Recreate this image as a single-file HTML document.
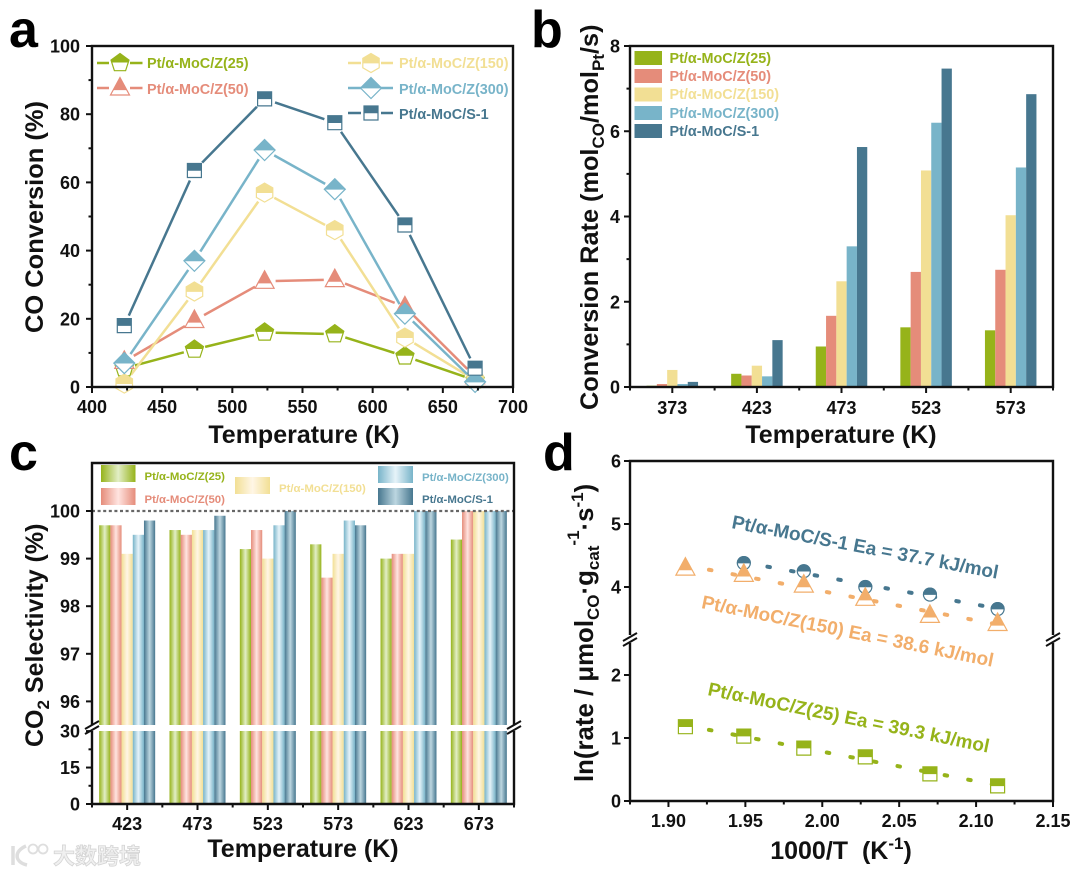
<!DOCTYPE html>
<html lang="en">
<head>
<meta charset="utf-8">
<title>Pt/α-MoC catalyst performance</title>
<style>
html,body{margin:0;padding:0;background:#fff;}
svg{display:block;}
text{font-family:"Liberation Sans","Noto Sans CJK SC",sans-serif;font-weight:bold;fill:#111;}
.tick{font-size:18px;}
.title{font-size:25px;}
.letter{font-size:52px;fill:#000;}
.lg{font-size:14.4px;}
.lgc{font-size:11.4px;}
.anno{font-size:19px;}
.g25{fill:#96b31a;}.g50{fill:#e58c7a;}.g150{fill:#f2df94;}.g300{fill:#78b4c9;}.gs1{fill:#47778f;}.go{fill:#f2ae6b;}
</style>
</head>
<body>
<svg id="figure" xmlns="http://www.w3.org/2000/svg" width="1080" height="874" viewBox="0 0 1080 874">
<defs>
<clipPath id="top-half" clipPathUnits="objectBoundingBox"><rect x="-0.2" y="-0.2" width="1.4" height="0.72"/></clipPath>
<clipPath id="top-tri" clipPathUnits="objectBoundingBox"><rect x="-0.2" y="-0.2" width="1.4" height="0.92"/></clipPath>
<linearGradient id="grad-0"><stop offset="0" stop-color="#96b31a"/><stop offset=".5" stop-color="#e2eec6"/><stop offset="1" stop-color="#96b31a"/></linearGradient>
<linearGradient id="grad-1"><stop offset="0" stop-color="#e58c7a"/><stop offset=".5" stop-color="#ffe4e0"/><stop offset="1" stop-color="#e58c7a"/></linearGradient>
<linearGradient id="grad-2"><stop offset="0" stop-color="#f2df94"/><stop offset=".5" stop-color="#fff6e6"/><stop offset="1" stop-color="#f2df94"/></linearGradient>
<linearGradient id="grad-3"><stop offset="0" stop-color="#78b4c9"/><stop offset=".5" stop-color="#e6f3f9"/><stop offset="1" stop-color="#78b4c9"/></linearGradient>
<linearGradient id="grad-4"><stop offset="0" stop-color="#47778f"/><stop offset=".5" stop-color="#bcd6e0"/><stop offset="1" stop-color="#47778f"/></linearGradient>
</defs>

<text class="letter" x="9" y="47">a</text>
<text class="letter" x="531" y="47">b</text>
<text class="letter" x="9" y="470">c</text>
<text class="letter" x="543" y="470">d</text>

<g id="panel-a">
  <g id="a-marks"></g>
  <rect x="92" y="46" width="421" height="341" fill="none" stroke="#111" stroke-width="2.4"/>
  <g id="a-axes"></g>
  <text class="title" transform="translate(43,333) rotate(-90)" textLength="232" lengthAdjust="spacingAndGlyphs">CO Conversion (%)</text>
  <text class="title" x="304" y="443" text-anchor="middle">Temperature (K)</text>
  <g id="a-legend">
    <g stroke-width="2.5">
      <path d="M97 63H109M130 63H142.5" stroke="#96b31a"/>
      <path d="M97 88H109M130 88H142.5" stroke="#e58c7a"/>
      <path d="M348 63H361M381 63H393" stroke="#f2df94"/>
      <path d="M348 88H361M381 88H393" stroke="#78b4c9"/>
      <path d="M348 113H361M381 113H393" stroke="#47778f"/>
    </g>
    <text class="lg g25" x="147" y="68">Pt/α-MoC/Z(25)</text>
    <text class="lg g50" x="147" y="94">Pt/α-MoC/Z(50)</text>
    <text class="lg g150" x="399" y="68">Pt/α-MoC/Z(150)</text>
    <text class="lg g300" x="399" y="94">Pt/α-MoC/Z(300)</text>
    <text class="lg gs1" x="399" y="119">Pt/α-MoC/S-1</text>
  </g>
</g>

<g id="panel-b">
  <g id="b-marks"></g>
  <rect x="630" y="46" width="423" height="341" fill="none" stroke="#111" stroke-width="2.4"/>
  <g id="b-axes"></g>
  <text class="title" style="font-size:25.3px" transform="translate(598,410) rotate(-90)">Conversion Rate (mol<tspan font-size="17" dy="6">CO</tspan><tspan dy="-6">/mol</tspan><tspan font-size="17" dy="6">Pt</tspan><tspan dy="-6">/s)</tspan></text>
  <text class="title" x="841" y="443" text-anchor="middle">Temperature (K)</text>
  <g>
    <rect x="634.5" y="51" width="27.5" height="14" fill="#96b31a"/>
    <rect x="634.5" y="69" width="27.5" height="14" fill="#e58c7a"/>
    <rect x="634.5" y="87.5" width="27.5" height="14" fill="#f2df94"/>
    <rect x="634.5" y="106" width="27.5" height="14" fill="#78b4c9"/>
    <rect x="634.5" y="124" width="27.5" height="14" fill="#47778f"/>
    <text class="lg g25" x="669.5" y="63">Pt/α-MoC/Z(25)</text>
    <text class="lg g50" x="669.5" y="81">Pt/α-MoC/Z(50)</text>
    <text class="lg g150" x="669.5" y="99">Pt/α-MoC/Z(150)</text>
    <text class="lg g300" x="669.5" y="118">Pt/α-MoC/Z(300)</text>
    <text class="lg gs1" x="669.5" y="136">Pt/α-MoC/S-1</text>
  </g>
</g>

<g id="panel-c">
  <g id="c-marks"></g>
  <line x1="92" x2="514" y1="511" y2="511" stroke="#666" stroke-width="2.2" stroke-dasharray="3 2.6"/>
  <path d="M92 725V463H514V725M92 731V804H514V731" fill="none" stroke="#111" stroke-width="2.4"/>
  <path d="M85 729L99 721M85 734L99 726M507 729L521 721M507 734L521 726" fill="none" stroke="#111" stroke-width="2"/>
  <g id="c-axes"></g>
  <text class="title" transform="translate(43,747) rotate(-90)">CO<tspan font-size="17" dy="6">2</tspan><tspan dy="-6"> Selectivity (%)</tspan></text>
  <text class="title" x="303" y="857" text-anchor="middle">Temperature (K)</text>
  <g>
    <rect x="101" y="465" width="34.5" height="17" fill="url(#grad-0)"/>
    <rect x="101" y="488" width="34.5" height="17" fill="url(#grad-1)"/>
    <rect x="235" y="477" width="35" height="17" fill="url(#grad-2)"/>
    <rect x="378" y="466" width="35" height="17" fill="url(#grad-3)"/>
    <rect x="378" y="488" width="35" height="17" fill="url(#grad-4)"/>
    <text class="lgc g25" x="144.5" y="480">Pt/α-MoC/Z(25)</text>
    <text class="lgc g50" x="144.5" y="503">Pt/α-MoC/Z(50)</text>
    <text class="lgc g150" x="279" y="492">Pt/α-MoC/Z(150)</text>
    <text class="lgc g300" x="422" y="481">Pt/α-MoC/Z(300)</text>
    <text class="lgc gs1" x="422" y="503">Pt/α-MoC/S-1</text>
  </g>
</g>

<g id="panel-d">
  <g id="d-marks"></g>
  <path d="M630 635V461H1053V635M630 643V801H1053V643" fill="none" stroke="#111" stroke-width="2.4"/>
  <path d="M623 641L637 633M623 646L637 638M1046 641L1060 633M1046 646L1060 638" fill="none" stroke="#111" stroke-width="2"/>
  <g id="d-axes"></g>
  <text class="title" style="font-size:25.8px" transform="translate(593,782) rotate(-90)">ln(rate / μmol<tspan font-size="17" dy="6">CO</tspan><tspan dy="-6">·g</tspan><tspan font-size="17" dy="6">cat</tspan><tspan font-size="17" dy="-20">-1</tspan><tspan dy="14">·s</tspan><tspan font-size="17" dy="-10">-1</tspan><tspan dy="10">)</tspan></text>
  <text class="title" x="841" y="859" text-anchor="middle" xml:space="preserve">1000/T  (K<tspan font-size="17" dy="-10">-1</tspan><tspan dy="10">)</tspan></text>
  <text class="anno gs1" transform="translate(731,528) rotate(10.8)">Pt/α-MoC/S-1 Ea = 37.7 kJ/mol</text>
  <text class="anno go" transform="translate(700.7,608) rotate(11.4)">Pt/α-MoC/Z(150) Ea = 38.6 kJ/mol</text>
  <text class="anno g25" transform="translate(707,695) rotate(11.6)">Pt/α-MoC/Z(25) Ea = 39.3 kJ/mol</text>
</g>

<g>
  <path d="M13 846V865M26 846C14 851 14 862 27 865" fill="none" stroke="#dedede" stroke-width="3.5"/>
  <circle cx="33" cy="849" r="4.5" fill="none" stroke="#dedede" stroke-width="1.8"/>
  <circle cx="43" cy="849" r="4.5" fill="none" stroke="#dedede" stroke-width="1.8"/>
  <text x="53" y="864" font-size="22" style="fill:#f0f0f0;stroke:#d4d4d4;stroke-width:.8;font-weight:bold;">大数跨境</text>
</g>
</svg>

<script>
/* ---------- panel a data ---------- */
const aTemps = [423, 473, 523, 573, 623, 673];
const aZ25 = [5.5, 11, 16, 15.5, 9, 2];
const aZ50 = [7.5, 19.5, 31, 31.5, 23.5, 3];
const aZ150 = [1, 28, 57, 46, 14.5, 2];
const aZ300 = [7, 37, 69.5, 58, 21.5, 1.5];
const aS1 = [18, 63.5, 84.5, 77.5, 47.5, 5.5];
const aXTicks = [400, 450, 500, 550, 600, 650, 700];
const aYTicks = [0, 20, 40, 60, 80, 100];

/* ---------- panel b data ---------- */
const bCategories = ['373', '423', '473', '523', '573'];
const bZ25 = [0.03, 0.31, 0.95, 1.4, 1.33];
const bZ50 = [0.07, 0.27, 1.67, 2.7, 2.75];
const bZ150 = [0.4, 0.5, 2.48, 5.08, 4.03];
const bZ300 = [0.07, 0.25, 3.3, 6.2, 5.15];
const bS1 = [0.12, 1.1, 5.63, 7.47, 6.87];
const bYTicks = [0, 2, 4, 6, 8];

/* ---------- panel c data ---------- */
const cCategories = ['423', '473', '523', '573', '623', '673'];
const cZ25 = [99.7, 99.6, 99.2, 99.3, 99.0, 99.4];
const cZ50 = [99.7, 99.5, 99.6, 98.6, 99.1, 100];
const cZ150 = [99.1, 99.6, 99.0, 99.1, 99.1, 100];
const cZ300 = [99.5, 99.6, 99.7, 99.8, 100, 100];
const cS1 = [99.8, 99.9, 100, 99.7, 100, 100];
const cUpperTicks = [96, 97, 98, 99, 100];
const cLowerTicks = [0, 15, 30];

/* ---------- panel d data ---------- */
const dS1X = [1.949, 1.988, 2.028, 2.07, 2.114];
const dS1Y = [4.38, 4.25, 4.0, 3.88, 3.65];
const dZ150X = [1.911, 1.949, 1.988, 2.028, 2.07, 2.114];
const dZ150Y = [4.3, 4.2, 4.03, 3.82, 3.55, 3.42];
const dZ25X = [1.911, 1.949, 1.988, 2.028, 2.07, 2.114];
const dZ25Y = [1.18, 1.03, 0.84, 0.7, 0.43, 0.24];
const dXTicks = ['1.90', '1.95', '2.00', '2.05', '2.10', '2.15'];
const dUpperTicks = [4, 5, 6];
const dLowerTicks = [0, 1, 2];

const COL = ['#96b31a', '#e58c7a', '#f2df94', '#78b4c9', '#47778f'];
const ORANGE = '#f2ae6b';
const NS = 'http://www.w3.org/2000/svg';

function make(parent, tag, attrs) {
  const el = document.createElementNS(NS, tag);
  for (const k in attrs) el.setAttribute(k, attrs[k]);
  parent.appendChild(el);
  return el;
}
function tickLine(parent, x1, y1, x2, y2) {
  const el = make(parent, 'line', {x1: x1, y1: y1, x2: x2, y2: y2, stroke: '#111', 'stroke-width': 2});
  
  
}
function tickLabel(parent, x, y, anchor, str) {
  const el = make(parent, 'text', {x: x, y: y, 'text-anchor': anchor, class: 'tick'});
  
  
  el.textContent = str;
}
function xTick(parent, x, axisY, label, baseY) {
  tickLine(parent, x, axisY, x, axisY + 6);
  if (label !== null) tickLabel(parent, x, baseY, 'middle', label);
}
function yTick(parent, axisX, y, label, rightX) {
  tickLine(parent, axisX - 6, y, axisX, y);
  tickLabel(parent, rightX, y + 6.5, 'end', label);
}
function minorX(parent, x, axisY) { tickLine(parent, x, axisY, x, axisY + 3.5); }
function minorY(parent, axisX, y) { tickLine(parent, axisX - 3.5, y, axisX, y); }

function shapePoints(shape, x, y) {
  const pts = [];
  if (shape === 'pentagon' || shape === 'hexagon') {
    const n = shape === 'pentagon' ? 5 : 6;
    const r = 9.5;
    for (let i = 0; i < n; i++) {
      const t = -Math.PI / 2 + i * 2 * Math.PI / n;
      pts.push([x + r * Math.cos(t), y + r * Math.sin(t)]);
    }
  } else if (shape === 'triangle') {
    pts.push([x, y - 10.5], [x + 9.5, y + 7], [x - 9.5, y + 7]);
  } else if (shape === 'diamond') {
    pts.push([x, y - 10.5], [x + 10.5, y], [x, y + 10.5], [x - 10.5, y]);
  } else {
    pts.push([x - 7, y - 7], [x + 7, y - 7], [x + 7, y + 7], [x - 7, y + 7]);
  }
  return pts.map(p => p[0].toFixed(1) + ',' + p[1].toFixed(1)).join(' ');
}
function marker(parent, shape, x, y, color) {
  let base, top;
  const clip = shape === 'triangle' ? 'url(#top-tri)' : 'url(#top-half)';
  if (shape === 'circle') {
    base = make(parent, 'circle', {cx: x, cy: y, r: 6.5, fill: '#fff', stroke: color, 'stroke-width': 1.2});
    top = make(parent, 'circle', {cx: x, cy: y, r: 7, fill: color, 'clip-path': clip});
  } else {
    const pts = shapePoints(shape, x, y);
    base = make(parent, 'polygon', {points: pts, fill: '#fff', stroke: color, 'stroke-width': 1.2});
    top = make(parent, 'polygon', {points: pts, fill: color, stroke: 'none', 'clip-path': clip});
  }
  
  
  
  
}

/* ---------- panel a ---------- */
(function () {
  const marks = document.getElementById('a-marks');
  const axes = document.getElementById('a-axes');
  const legend = document.getElementById('a-legend');
  const xs = v => 92 + (v - 400) * 421 / 300;
  const ys = v => 387 - v * 3.41;
  const series = [aZ25, aZ50, aZ150, aZ300, aS1];
  const shapes = ['pentagon', 'triangle', 'hexagon', 'diamond', 'square'];
  series.forEach(function (vals, s) {
    for (let i = 0; i < vals.length - 1; i++) {
      const x1 = xs(aTemps[i]), y1 = ys(vals[i]), x2 = xs(aTemps[i + 1]), y2 = ys(vals[i + 1]);
      const d = Math.hypot(x2 - x1, y2 - y1);
      if (d < 22) continue;
      const ux = (x2 - x1) / d, uy = (y2 - y1) / d;
      const seg = make(marks, 'line', {x1: x1 + ux * 11, y1: y1 + uy * 11, x2: x2 - ux * 11, y2: y2 - uy * 11, stroke: COL[s], 'stroke-width': 2.5});
      
      
    }
  });
  series.forEach(function (vals, s) {
    vals.forEach(function (v, i) { marker(marks, shapes[s], xs(aTemps[i]), ys(v), COL[s]); });
  });
  aXTicks.forEach(function (t, i) {
    xTick(axes, xs(t), 387, String(t), 413);
    if (i < aXTicks.length - 1) minorX(axes, xs(t + 25), 387);
  });
  aYTicks.forEach(function (t, i) {
    yTick(axes, 92, ys(t), String(t), 80);
    if (i < aYTicks.length - 1) minorY(axes, 92, ys(t + 10));
  });
  marker(legend, 'pentagon', 120, 63, COL[0]);
  marker(legend, 'triangle', 120, 88, COL[1]);
  marker(legend, 'hexagon', 371, 63, COL[2]);
  marker(legend, 'diamond', 371, 88, COL[3]);
  marker(legend, 'square', 371, 113, COL[4]);
})();

/* ---------- panel b ---------- */
(function () {
  const marks = document.getElementById('b-marks');
  const axes = document.getElementById('b-axes');
  const step = 423 / bCategories.length;
  const xc = i => 630 + step * (i + 0.5);
  const ys = v => 387 - v * 341 / 8;
  const series = [bZ25, bZ50, bZ150, bZ300, bS1];
  const bw = 10.3;
  series.forEach(function (vals, s) {
    vals.forEach(function (v, i) {
      const b = make(marks, 'rect', {x: xc(i) + (s - 2.5) * bw, y: ys(v), width: bw, height: 387 - ys(v), fill: COL[s]});
      
      
    });
  });
  bCategories.forEach(function (c, i) {
    xTick(axes, xc(i), 387, c, 414);
    minorX(axes, 630 + step * i, 387);
  });
  minorX(axes, 1053, 387);
  bYTicks.forEach(function (t, i) {
    yTick(axes, 630, ys(t), String(t), 620);
    if (i < bYTicks.length - 1) minorY(axes, 630, ys(t + 1));
  });
})();

/* ---------- panel c ---------- */
(function () {
  const marks = document.getElementById('c-marks');
  const axes = document.getElementById('c-axes');
  const step = 422 / cCategories.length;
  const xc = i => 92 + step * (i + 0.5);
  const yUp = v => 511 + (100 - v) * 47.6;
  const yLow = v => 804 - v * 2.43;
  const series = [cZ25, cZ50, cZ150, cZ300, cS1];
  const bw = 11.2;
  series.forEach(function (vals, s) {
    vals.forEach(function (v, i) {
      const x = xc(i) + (s - 2.5) * bw;
      const up = make(marks, 'rect', {x: x, y: yUp(v), width: bw, height: 725 - yUp(v), fill: 'url(#grad-' + s + ')'});
      
      
      const low = make(marks, 'rect', {x: x, y: 731, width: bw, height: 73, fill: 'url(#grad-' + s + ')'});
      
      
    });
  });
  cCategories.forEach(function (c, i) {
    xTick(axes, xc(i), 804, c, 830);
    minorX(axes, 92 + step * i, 804);
  });
  minorX(axes, 514, 804);
  cUpperTicks.forEach(function (t) { yTick(axes, 92, yUp(t), String(t), 80); });
  cLowerTicks.forEach(function (t) { yTick(axes, 92, yLow(t), String(t), 80); });
  minorY(axes, 92, yLow(7.5));
  minorY(axes, 92, yLow(22.5));
})();

/* ---------- panel d ---------- */
(function () {
  const marks = document.getElementById('d-marks');
  const axes = document.getElementById('d-axes');
  const xs = v => 630 + (v - 1.875) * 1536 * (423 / 422.4);
  const ys = v => v >= 3 ? 587 - (v - 4) * 63 : 801 - v * 63;
  function fit(X, Y) {
    const n = X.length;
    const mx = X.reduce((a, b) => a + b, 0) / n, my = Y.reduce((a, b) => a + b, 0) / n;
    let num = 0, den = 0;
    X.forEach(function (x, i) { num += (x - mx) * (Y[i] - my); den += (x - mx) * (x - mx); });
    const m = num / den;
    return x => my + m * (x - mx);
  }
  [[dS1X, dS1Y, COL[4], 'circle'], [dZ150X, dZ150Y, ORANGE, 'triangle'], [dZ25X, dZ25Y, COL[0], 'square']].forEach(function (d) {
    const f = fit(d[0], d[1]);
    const x0 = d[0][0], x1 = d[0][d[0].length - 1];
    const ln = make(marks, 'line', {x1: xs(x0), y1: ys(f(x0)), x2: xs(x1), y2: ys(f(x1)), stroke: d[2], 'stroke-width': 4, 'stroke-linecap': 'round', 'stroke-dasharray': '2.5 21.5'});
    
    
    d[0].forEach(function (x, i) { marker(marks, d[3], xs(x), ys(d[1][i]), d[2]); });
  });
  dXTicks.forEach(function (t) {
    xTick(axes, xs(parseFloat(t)), 801, t, 827);
    minorX(axes, xs(parseFloat(t) - 0.025), 801);
  });
  dUpperTicks.forEach(function (t) { yTick(axes, 630, ys(t), String(t), 621); });
  dLowerTicks.forEach(function (t) { yTick(axes, 630, ys(t), String(t), 621); });
})();
</script>
</body>
</html>
